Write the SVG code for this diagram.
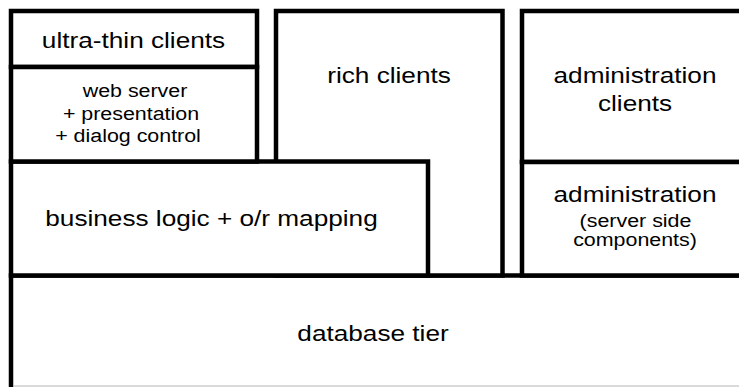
<svg xmlns="http://www.w3.org/2000/svg" width="739" height="387" viewBox="0 0 739 387">
  <style>
    .box { fill: #ffffff; stroke: #000000; stroke-width: 4.5; }
    .edge { fill: none; stroke: #000000; stroke-width: 4.5; }
    .rim { fill: none; stroke: #b4b4b4; stroke-width: 1; }
    .lbl { font-family: "Liberation Sans", Arial, sans-serif; font-size: 22px; fill: #000000; text-anchor: middle; }
    .sm { font-size: 18px; }
  </style>
  <rect width="739" height="387" fill="#ffffff"/>

  <!-- database tier, spans the full width beneath everything -->
  <g id="database-tier">
    <path class="edge" d="M 11 387 L 11 275.5 L 745 275.5"/>
    <line class="rim" x1="13" y1="386" x2="739" y2="386"/>
    <text class="lbl" transform="translate(373 340.5) scale(1.19 1)">database tier</text>
  </g>

  <g id="rich-clients">
    <rect class="box" x="276" y="11" width="226.5" height="264.5"/>
    <text class="lbl" transform="translate(389 83.3) scale(1.19 1)">rich clients</text>
  </g>

  <g id="business-logic">
    <rect class="box" x="11" y="161.5" width="417" height="114"/>
    <text class="lbl" transform="translate(211.5 225.7) scale(1.19 1)">business logic + o/r mapping</text>
  </g>

  <g id="ultra-thin-clients">
    <rect class="box" x="11" y="11" width="246" height="56"/>
    <text class="lbl" transform="translate(133.5 48.3) scale(1.19 1)">ultra-thin clients</text>
  </g>

  <g id="web-server">
    <rect class="box" x="11" y="67" width="246" height="94.5"/>
    <text class="lbl sm" transform="translate(135 97) scale(1.19 1)">web server</text>
    <text class="lbl sm" transform="translate(131 119.5) scale(1.19 1)">+ presentation</text>
    <text class="lbl sm" transform="translate(128 141.5) scale(1.19 1)">+ dialog control</text>
  </g>

  <g id="administration-clients">
    <rect class="box" x="522" y="11" width="300" height="151"/>
    <text class="lbl" transform="translate(635 83.3) scale(1.19 1)">administration</text>
    <text class="lbl" transform="translate(635 111) scale(1.19 1)">clients</text>
  </g>

  <g id="administration-server">
    <rect class="box" x="522" y="162" width="300" height="113.5"/>
    <text class="lbl" transform="translate(635 202.3) scale(1.19 1)">administration</text>
    <text class="lbl sm" transform="translate(635.5 227) scale(1.19 1)">(server side</text>
    <text class="lbl sm" transform="translate(635 246) scale(1.19 1)">components)</text>
  </g>

  <!-- the tiers simply abut; there are no connecting lines -->
  <g id="connectors"/>
</svg>
